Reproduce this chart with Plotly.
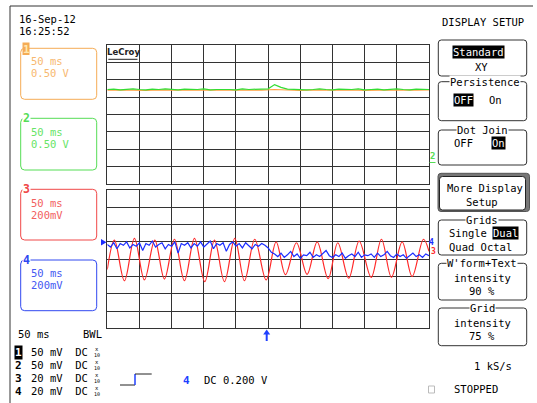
import plotly.graph_objects as go

W, H = 537, 403
MONO = "DejaVu Sans Mono"

# ---------------- data (read from the screen) ----------------
# time axis: 50 ms/div, 10 divisions, trigger at centre
ch2_step_ms = 10
ch2_volts = [0.72, 0.73, 0.71, 0.72, 0.74, 0.72, 0.71, 0.73, 0.72, 0.74,
             0.72, 0.71, 0.73, 0.72, 0.72, 0.74, 0.71, 0.72, 0.73, 0.72,
             0.71, 0.74, 0.72, 0.73, 0.72, 0.74, 0.86, 0.78, 0.73, 0.72,
             0.73, 0.71, 0.72, 0.74, 0.72, 0.71, 0.73, 0.72, 0.72, 0.74,
             0.71, 0.72, 0.73, 0.71, 0.72, 0.74, 0.72, 0.71, 0.73, 0.72, 0.72]
ch1_step_ms = 20
ch1_volts = [0.70, 0.71, 0.70, 0.69, 0.71, 0.70, 0.70, 0.71, 0.69, 0.70,
             0.71, 0.70, 0.70, 0.72, 0.70, 0.69, 0.71, 0.70, 0.70, 0.71,
             0.69, 0.70, 0.71, 0.70, 0.70, 0.71]

# channel 3: extremes of the oscillation (time ms, volts)
ch3_time_ms = [-250, -238.9, -223.4, -207.8, -192.3, -176.2, -161.2, -145.6,
               -130.1, -114.5, -98.5, -83.4, -67.9, -51.9, -36.8, -20.8, -3.1,
               12.4, 26.9, 44.0, 60.6, 76.2, 93.3, 108.2, 125.3, 141.4, 160.1,
               176.1, 191.6, 208.3, 223.8, 241.4, 250]
ch3_volts = [-0.12, 0.22, -0.25, 0.24, -0.24, 0.22, -0.23, 0.23, -0.25, 0.24,
             -0.26, 0.22, -0.26, 0.24, -0.25, 0.23, -0.24,
             0.20, -0.18, 0.19, -0.175, 0.20, -0.225, 0.19, -0.22, 0.21, -0.21,
             0.23, -0.21, 0.20, -0.20, 0.23, 0.09]

# channel 4: 5 ms steps from -250 ms
ch4_step_ms = 5
ch4_volts = [0.17, 0.14, 0.19, 0.12, 0.18, 0.16, 0.20, 0.13, 0.17, 0.15,
             0.19, 0.10, 0.18, 0.16, 0.21, 0.14, 0.17, 0.19, 0.12, 0.17,
             0.15, 0.20, 0.07, 0.18, 0.16, 0.19, 0.13, 0.18, 0.15, 0.20,
             0.14, 0.17, 0.21, 0.12, 0.18, 0.16, 0.19, 0.09, 0.17, 0.20,
             0.15, 0.18, 0.13, 0.19, 0.16, 0.12, 0.17, 0.15, 0.18, 0.16,
             0.13, 0.08,
             0.06, 0.03, 0.07, 0.02, 0.05, 0.09, 0.03, 0.06, 0.01, 0.05,
             0.04, 0.08, 0.02, 0.05, 0.03, 0.06, 0.10, 0.04, 0.02, 0.05,
             0.03, 0.07, 0.01, 0.04, 0.06, 0.03, 0.08, 0.02, 0.05, 0.04,
             0.06, 0.02, 0.07, 0.03, 0.05, 0.09, 0.04, 0.02, 0.06, 0.03,
             0.05, 0.01, 0.04, 0.07, 0.03, 0.05, 0.02, 0.06, 0.04]

ch_colors = {"1": "#f5ac55", "2": "#55dd55", "3": "#f04848", "4": "#3048f0"}
ch_text = {"1": "#f7b870", "2": "#66e466", "3": "#f26060", "4": "#4458f2"}
trace_colors = {"1": "#ffa040", "2": "#33dd33", "3": "#ff2a2a", "4": "#1a2cff"}

# ---------------- figure ----------------
GX0, GX1 = 107.3, 429.0
TY0, TY1 = 45.0, 184.0
BY0, BY1 = 190.0, 328.3
GRID = "#333333"

fig = go.Figure()
fig.add_trace(go.Scatter(x=[0], y=[0], mode="markers", marker=dict(opacity=0),
                         hoverinfo="skip", showlegend=False, xaxis="x", yaxis="y"))

t1 = [-250 + ch1_step_ms * i for i in range(len(ch1_volts))]
t2 = [-250 + ch2_step_ms * i for i in range(len(ch2_volts))]
t4 = [-250 + ch4_step_ms * i for i in range(len(ch4_volts))]

fig.add_trace(go.Scatter(x=t1, y=ch1_volts, mode="lines", xaxis="x2", yaxis="y2",
                         line=dict(color=trace_colors["1"], width=1.2), showlegend=False))
fig.add_trace(go.Scatter(x=t2, y=ch2_volts, mode="lines", xaxis="x2", yaxis="y2",
                         line=dict(color=trace_colors["2"], width=1.2), showlegend=False))
fig.add_trace(go.Scatter(x=ch3_time_ms, y=ch3_volts, mode="lines", xaxis="x3", yaxis="y3",
                         line=dict(color=trace_colors["3"], width=1.2, shape="spline", smoothing=1.0),
                         showlegend=False))
fig.add_trace(go.Scatter(x=t4, y=ch4_volts, mode="lines", xaxis="x3", yaxis="y3",
                         line=dict(color=trace_colors["4"], width=1.2), showlegend=False))

grid_axis = dict(showgrid=True, gridcolor=GRID, gridwidth=1, zeroline=False,
                 showline=True, mirror=True, linecolor=GRID, linewidth=1,
                 showticklabels=False, ticks="", fixedrange=True)

fig.update_layout(
    width=W, height=H, margin=dict(l=0, r=0, t=0, b=0),
    paper_bgcolor="white", plot_bgcolor="rgba(0,0,0,0)", showlegend=False,
    xaxis=dict(domain=[0, 1], range=[0, W], visible=False, fixedrange=True),
    yaxis=dict(domain=[0, 1], range=[H, 0], visible=False, fixedrange=True),
    xaxis2=dict(domain=[GX0 / W, GX1 / W], range=[-250, 250], tick0=-250, dtick=50,
                anchor="y2", **grid_axis),
    yaxis2=dict(domain=[1 - TY1 / H, 1 - TY0 / H], range=[-2, 2], tick0=-2, dtick=0.5,
                anchor="x2", **grid_axis),
    xaxis3=dict(domain=[GX0 / W, GX1 / W], range=[-250, 250], tick0=-250, dtick=50,
                anchor="y3", **grid_axis),
    yaxis3=dict(domain=[1 - BY1 / H, 1 - BY0 / H], range=[-0.8, 0.8], tick0=-0.8, dtick=0.2,
                anchor="x3", **grid_axis),
)

shapes = []
ann = []


def line(x0, y0, x1, y1, color=GRID, width=1):
    shapes.append(dict(type="line", xref="x", yref="y", x0=x0, y0=y0, x1=x1, y1=y1,
                       line=dict(color=color, width=width)))


def rrect(x0, y0, x1, y1, color=GRID, r=3, width=1, fill=None):
    p = (f"M{x0+r},{y0} L{x1-r},{y0} Q{x1},{y0} {x1},{y0+r} L{x1},{y1-r} "
         f"Q{x1},{y1} {x1-r},{y1} L{x0+r},{y1} Q{x0},{y1} {x0},{y1-r} "
         f"L{x0},{y0+r} Q{x0},{y0} {x0+r},{y0} Z")
    shapes.append(dict(type="path", xref="x", yref="y", path=p,
                       line=dict(color=color, width=width),
                       fillcolor=fill if fill else "rgba(0,0,0,0)"))


def txt(x, y, s, color="black", size=10.5, anchor="left", bg=None, family=MONO):
    d = dict(x=x, y=y, xref="x", yref="y", text=s, showarrow=False, xanchor=anchor,
             yanchor="middle", font=dict(family=family, size=size, color=color), borderpad=0)
    if bg:
        d["bgcolor"] = bg
    ann.append(d)


# outer frame
line(10, 6, 533, 6)
line(10, 6, 10, 403)

# date / time
txt(18, 19, "16-Sep-12")
txt(18, 31, "16:25:52")

# channel boxes
boxes = [("1", 48.3, 99.3, "50 ms", "0.50 V", 61, 73.3),
         ("2", 118.3, 170, "50 ms", "0.50 V", 131.7, 144),
         ("3", 189.3, 240, "50 ms", "200mV", 202.7, 215),
         ("4", 260, 310.7, "50 ms", "200mV", 272.7, 285)]
for ch, y0, y1, a, b, ya, yb in boxes:
    rrect(20.7, y0, 96.7, y1, color=ch_colors[ch], r=4)
    txt(30, ya, a, color=ch_text[ch])
    txt(30, yb, b, color=ch_text[ch])
    if ch == "1":
        shapes.append(dict(type="rect", xref="x", yref="y", x0=22.5, y0=42.5, x1=29.5, y1=55,
                           line=dict(width=0), fillcolor=ch_colors[ch]))
        txt(26, 49, "<b>1</b>", color="#ffe8b0", size=11, anchor="center")
    else:
        txt(26, y0, f"<b>{ch}</b>", color=ch_colors[ch], size=11.5, anchor="center", bg="white")

# LeCroy logo
txt(123.3, 52.3, "<b>LeCroy</b>", color="#222222", size=8.5, anchor="center", family="DejaVu Sans")
line(108.3, 59.3, 137.5, 59.3, color="#222222")

# markers on grids
shapes.append(dict(type="path", xref="x", yref="y", path="M101,239 L106.5,242.3 L101,245.6 Z",
                   line=dict(width=0), fillcolor=trace_colors["4"]))
txt(432.5, 156, "<b>2</b>", color=ch_colors["2"], size=9, anchor="center")
line(429.5, 162.5, 435.5, 162.5, color=ch_colors["2"])
txt(431.5, 242.5, "<b>4</b>", color=trace_colors["4"], size=8, anchor="center")
txt(433, 251.5, "<b>3</b>", color=trace_colors["3"], size=8, anchor="center")

# trigger arrow
line(266.7, 333, 266.7, 341, color="#2040ff", width=2)
shapes.append(dict(type="path", xref="x", yref="y", path="M263.2,334.5 L266.7,329.5 L270.2,334.5 Z",
                   line=dict(width=0), fillcolor="#2040ff"))

# bottom-left settings
txt(17, 334.3, "50 ms")
txt(82, 334.3, "BWL")
rows = [("1", "50 mV  DC", 352), ("2", "50 mV  DC", 365), ("3", "20 mV  DC", 378), ("4", "20 mV  DC", 391)]
for ch, s, y in rows:
    if ch == "1":
        txt(18.5, y, "<b>1</b>", color="white", size=11, anchor="center", bg="black")
    else:
        txt(18.5, y, f"<b>{ch}</b>", color="black", size=11, anchor="center")
    txt(30, y, s)
    txt(97, y - 3, "x", size=5.5, anchor="center")
    txt(97, y + 2.5, "10", size=5, anchor="center")

# trigger symbol + level
line(120, 385, 135, 385, color="#222222")
line(135, 385, 135, 374, color="#2040ff", width=1.5)
line(135, 374, 151.7, 374, color="#222222")
txt(186.5, 380, "<b>4</b>", color="#2040ff", size=11, anchor="center")
txt(203.3, 380, "DC 0.200 V")

# right-hand menu
txt(482.8, 22, "DISPLAY SETUP", anchor="center")

rrect(438.3, 40, 526.7, 76)
txt(478, 51.5, "Standard", color="white", bg="black", anchor="center")
txt(481, 66.7, "XY", anchor="center")

rrect(438.3, 81.7, 526.7, 120.7)
txt(485, 81.7, "Persistence", anchor="center", bg="white")
txt(463, 100, "OFF", color="white", bg="black", anchor="center")
txt(495.5, 100, "On", anchor="center")

rrect(438.3, 130, 526.7, 165)
txt(482, 130, "Dot Join", anchor="center", bg="white")
txt(463, 143.3, "OFF", anchor="center")
txt(498, 143.3, "On", color="white", bg="black", anchor="center")

# More Display Setup (raised button)
rrect(438, 173.3, 529.5, 211.5, color="#555555", r=3, fill="#777777")
rrect(439.5, 176.5, 525.5, 210, color="#222222", r=3, fill="white")
txt(485, 188.3, "More Display", anchor="center")
txt(482, 202.3, "Setup", anchor="center")

rrect(438.3, 220, 526.7, 255)
txt(482, 220, "Grids", anchor="center", bg="white")
txt(448, 233.3, "Single")
txt(505, 233.3, "Dual", color="white", bg="black", anchor="center")
txt(448, 246.7, "Quad Octal")

rrect(438.3, 263.3, 526.7, 300)
txt(482, 263.3, "W'form+Text", anchor="center", bg="white")
txt(482, 278.3, "intensity", anchor="center")
txt(482, 291, "90 %", anchor="center")

rrect(438.3, 308, 526.7, 345.7)
txt(482, 308, "Grid", anchor="center", bg="white")
txt(482, 323, "intensity", anchor="center")
txt(482, 336, "75 %", anchor="center")

txt(493, 366, "1 kS/s", anchor="center")
shapes.append(dict(type="rect", xref="x", yref="y", x0=428.5, y0=386, x1=434.5, y1=393,
                   line=dict(color="#bbbbbb", width=1), fillcolor="white"))
txt(476, 389.3, "STOPPED", anchor="center")

fig.update_layout(shapes=shapes, annotations=ann)
fig.write_html("out.html")
